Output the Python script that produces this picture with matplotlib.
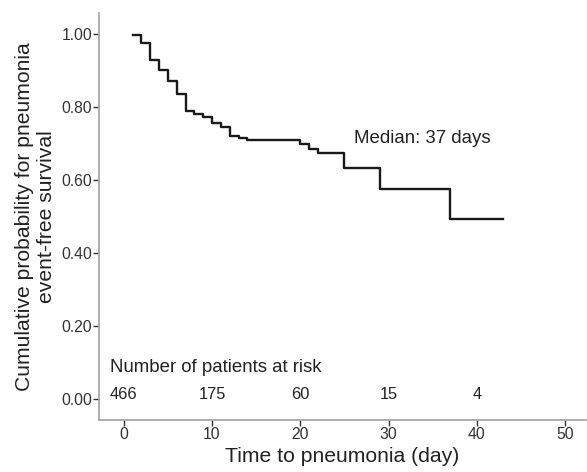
import matplotlib
matplotlib.use("Agg")
import matplotlib.pyplot as plt

# Kaplan-Meier step curve
days = [1, 2, 3, 4, 5, 6, 7, 8, 9, 10, 11, 12, 13, 14, 20, 21, 22, 25, 29, 37, 43]
surv = [0.996, 0.975, 0.929, 0.901, 0.871, 0.835, 0.790, 0.781, 0.772, 0.755,
        0.744, 0.721, 0.715, 0.710, 0.698, 0.685, 0.673, 0.634, 0.576, 0.494, 0.494]

risk_days = [0, 10, 20, 30, 40]
at_risk = [466, 175, 60, 15, 4]

xticks = [0, 10, 20, 30, 40, 50]
yticks = [0.0, 0.2, 0.4, 0.6, 0.8, 1.0]

plt.rcParams['font.family'] = ['Liberation Sans', 'DejaVu Sans']

fig = plt.figure(figsize=(5.87, 4.72), dpi=100)
ax = fig.add_axes([99 / 587, 1 - 420 / 472, 487 / 587, 407 / 472])

ax.step(days, surv, where='post', color='#1a1a1a', lw=1.7)

ax.text(26.1, 0.715, "Median: 37 days", fontsize=13.4, color='#222222', va='center', ha='left')
ax.text(-1.55, 0.086, "Number of patients at risk", fontsize=13.4, color='#222222', va='center', ha='left')
for d, n in zip(risk_days, at_risk):
    ax.text(d, 0.012, str(n), fontsize=11.8, color='#222222', va='center', ha='center')

ax.set_xlim(-2.8, 52.35)
ax.set_ylim(-0.0575, 1.0575)
ax.set_xticks(xticks)
ax.set_yticks(yticks)
ax.set_yticklabels(["%.2f" % v for v in yticks])

for s in ['top', 'right']:
    ax.spines[s].set_visible(False)
for s in ['left', 'bottom']:
    ax.spines[s].set_color('#a0a0a0')
    ax.spines[s].set_linewidth(1.2)
ax.tick_params(length=4, width=1, color='#333333', labelcolor='#333333', labelsize=11.3, pad=1)

ax.set_xlabel("Time to pneumonia (day)", fontsize=15.2, color='#222222', labelpad=4)
ax.set_ylabel("Cumulative probability for pneumonia\nevent-free survival", fontsize=15.2,
              color='#222222', labelpad=4, linespacing=1.2)

fig.savefig("out.png", dpi=100)
